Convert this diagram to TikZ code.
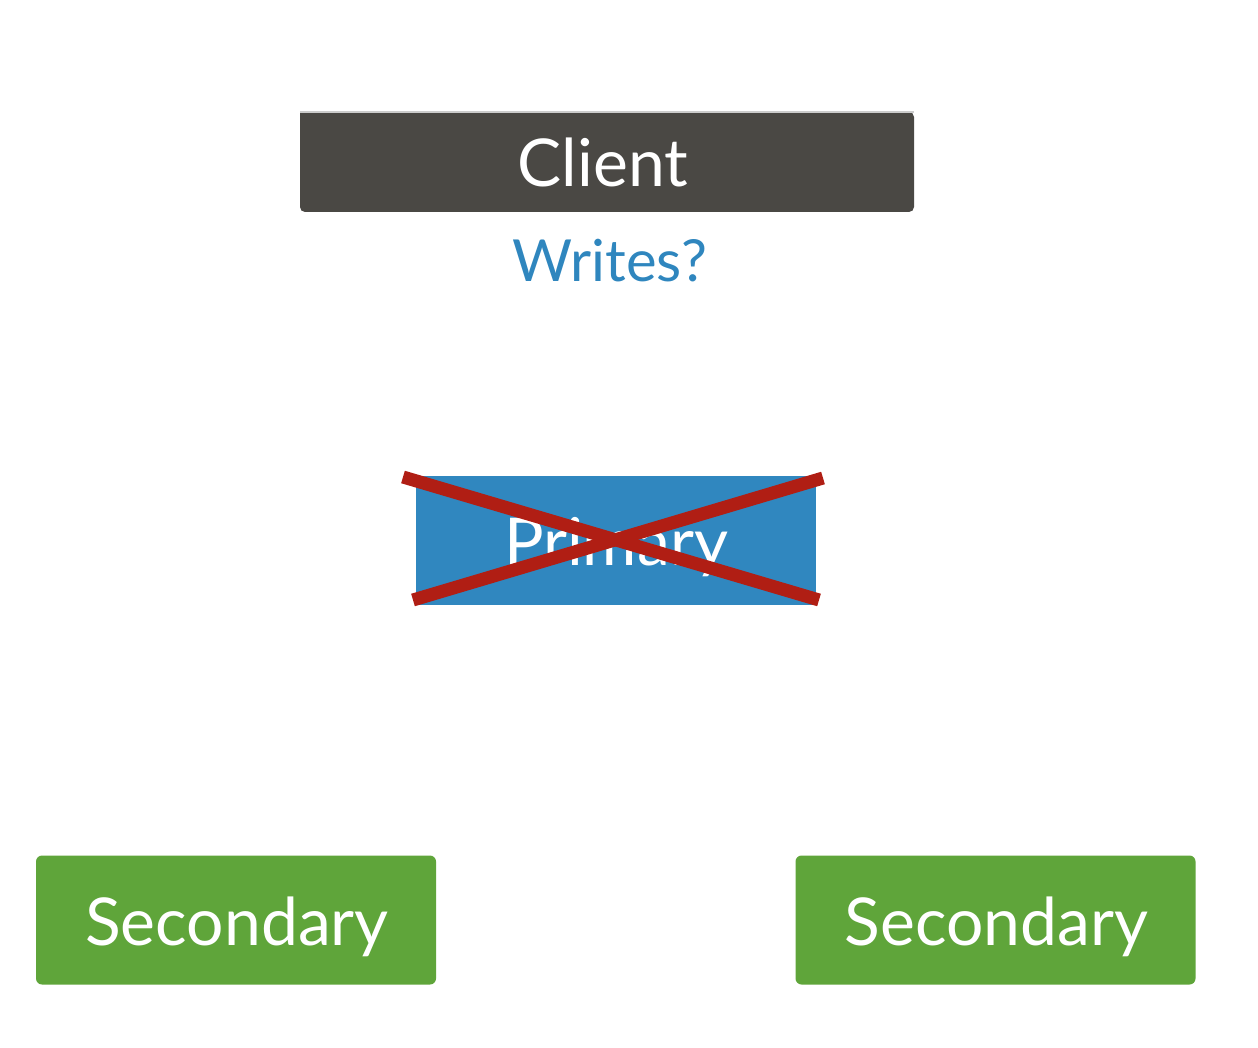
\documentclass[tikz,border=0pt]{standalone}
\usepackage{fontspec}
\setmainfont{Lato}
\definecolor{clientgray}{HTML}{4A4844}
\definecolor{primblue}{HTML}{3087BF}
\definecolor{secgreen}{HTML}{5FA53A}
\definecolor{xred}{HTML}{B01E14}
\definecolor{writeblue}{HTML}{2F86BE}
\begin{document}
\begin{tikzpicture}[x=1pt,y=-1pt,
  boxtext/.style={text=white,font=\fontsize{66}{70}\selectfont,anchor=base,inner sep=0pt},
  secbox/.style={fill=secgreen,rounded corners=6pt,minimum width=400pt,minimum height=129pt,inner sep=0pt},
  crossline/.style={draw=xred,line width=13pt}]
\useasboundingbox (0,0) rectangle (1258,1048);
% Client box
\fill[clientgray,rounded corners=5pt] (300,112) -- (300,212) -- (914,212) -- (914,112) [sharp corners]-- cycle;
\draw[gray!40,line width=1.5pt] (300,112) -- (914,112);
\node[boxtext] (client) at (603,187) {Client};
\node[text=writeblue,font=\fontsize{58}{62}\selectfont,anchor=base,inner sep=0pt] (writes) at (610,282) {Writes?};
% Primary
\node[fill=primblue,minimum width=400pt,minimum height=129pt,inner sep=0pt] (primary) at (616,540) {};
\node[boxtext] (primlabel) at (616,565) {Primary};
\coordinate (x1a) at (403,477);
\coordinate (x1b) at (819,600);
\coordinate (x2a) at (413,600);
\coordinate (x2b) at (823,478);
\draw[crossline] (x1a) -- (x1b);
\draw[crossline] (x2a) -- (x2b);
% Secondaries
\node[secbox] (sec1) at (236,920) {};
\node[boxtext] (sec1label) at (237,945) {Secondary};
\node[secbox] (sec2) at (995.5,920) {};
\node[boxtext] (sec2label) at (996.5,945) {Secondary};
\end{tikzpicture}
\end{document}
